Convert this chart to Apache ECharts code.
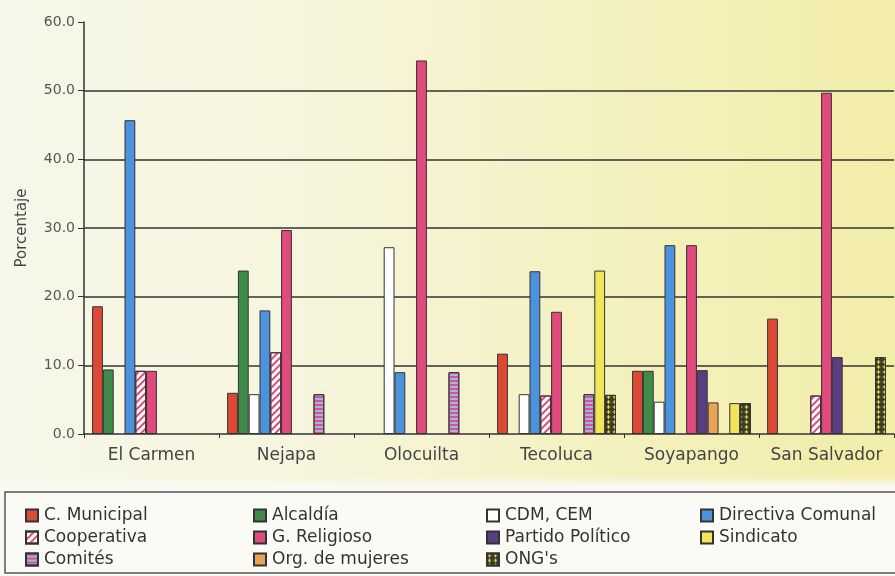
<!DOCTYPE html>
<html>
<head>
<meta charset="utf-8">
<script src="https://cdn.jsdelivr.net/npm/echarts@6/dist/echarts.min.js"></script>
<style>
  html, body { margin: 0; padding: 0; }
  body {
    width: 895px; height: 576px; overflow: hidden;
    background:
      linear-gradient(to bottom, rgba(250,250,244,0) 0px, rgba(250,250,244,0) 476px, #f9f9f3 486px),
      linear-gradient(to right, #f7f7ea 0%, #f6f5dc 35%, #f4f1c2 65%, #f2eda9 100%);
  }
  #chart { width: 895px; height: 576px; }
</style>
</head>
<body>
<div id="chart"></div>
<script>
// Municipalities
const categories = ['El Carmen', 'Nejapa', 'Olocuilta', 'Tecoluca', 'Soyapango', 'San Salvador'];

// Percentage of participation per organisation type
const municipal   = [18.6,  6.0,  0.0, 11.7,  9.2, 16.8];
const alcaldia    = [ 9.4, 23.8,  0.0,  0.0,  9.2,  0.0];
const cdmCem      = [ 0.0,  5.8, 27.2,  5.8,  4.7,  0.0];
const directiva   = [45.7, 18.0,  9.0, 23.7, 27.5,  0.0];
const cooperativa = [ 9.2, 11.9,  0.0,  5.6,  0.0,  5.6];
const religioso   = [ 9.2, 29.7, 54.4, 17.8, 27.5, 49.7];
const partido     = [ 0.0,  0.0,  0.0,  0.0,  9.3, 11.2];
const mujeres     = [ 0.0,  0.0,  0.0,  0.0,  4.6,  0.0];
const comites     = [ 0.0,  5.8,  9.0,  5.8,  0.0,  0.0];
const sindicato   = [ 0.0,  0.0,  0.0, 23.8,  4.5,  0.0];
const ongs        = [ 0.0,  0.0,  0.0,  5.7,  4.5, 11.2];

// Y axis
const yMin = 0, yMax = 60, yStep = 10;

const FONT = 'DejaVu Sans';
const EDGE = '#333333';

function barSeries(name, data, color, decal) {
  const s = {
    name: name,
    type: 'bar',
    // a zero share leaves its slot empty instead of drawing a flat outline
    data: data.map(v => (v === 0 ? '-' : v)),
    barGap: '0%',
    barCategoryGap: '12%',
    itemStyle: { color: color, borderColor: EDGE, borderWidth: 1 }
  };
  if (decal) s.itemStyle.decal = decal;
  return s;
}

const diagonalPink = {
  symbol: 'rect', symbolSize: 1, color: '#e2467c',
  dashArrayX: [1, 0], dashArrayY: [2, 2.5], rotation: -Math.PI / 4
};
const stripedPink = {
  symbol: 'rect', symbolSize: 1, color: '#e0508a',
  dashArrayX: [1, 0], dashArrayY: [1.6, 1.6], rotation: 0
};
const yellowCross = {
  symbol: 'path://M2,0H4V2H6V4H4V6H2V4H0V2H2Z', symbolSize: 0.9, color: '#e9dd45',
  dashArrayX: [4.5, 0.5], dashArrayY: [4, 1], rotation: 0
};

const series = [
  barSeries('C. Municipal', municipal, '#dc4a35'),
  barSeries('Alcaldía', alcaldia, '#3f8b4a'),
  barSeries('CDM, CEM', cdmCem, '#ffffff'),
  barSeries('Directiva Comunal', directiva, '#4d92dc'),
  barSeries('Cooperativa', cooperativa, '#ffffff', diagonalPink),
  barSeries('G. Religioso', religioso, '#e04a7c'),
  barSeries('Partido Político', partido, '#5b3d84'),
  barSeries('Org. de mujeres', mujeres, '#eba257'),
  barSeries('Comités', comites, '#9ab8ea', stripedPink),
  barSeries('Sindicato', sindicato, '#f2e55a'),
  barSeries("ONG's", ongs, '#3c3a28', yellowCross)
];

function legendColumn(left, top, names) {
  return {
    orient: 'vertical', left: left, top: top,
    itemWidth: 12, itemHeight: 12, itemGap: 5,
    icon: 'rect',
    selectedMode: false,
    textStyle: { fontFamily: FONT, fontSize: 17, lineHeight: 17, color: '#333', padding: [0, 0, 0, 1] },
    data: names
  };
}

const chart = echarts.init(document.getElementById('chart'), null, { renderer: 'canvas' });
chart.setOption({
  animation: false,
  backgroundColor: 'transparent',
  textStyle: { fontFamily: FONT },
  grid: { left: 84, right: 1, top: 22, bottom: 142, containLabel: false },
  xAxis: {
    type: 'category',
    data: categories,
    axisLine: { lineStyle: { color: EDGE, width: 1.5 } },
    axisTick: { show: true, length: 4, lineStyle: { color: EDGE } },
    axisLabel: { interval: 0, fontFamily: FONT, fontSize: 17, color: '#444', margin: 13 }
  },
  yAxis: {
    type: 'value',
    min: yMin, max: yMax, interval: yStep,
    name: 'Porcentaje',
    nameLocation: 'middle',
    nameGap: 54,
    nameTextStyle: { fontFamily: FONT, fontSize: 15, color: '#444' },
    axisLine: { show: true, lineStyle: { color: EDGE, width: 1.5 } },
    axisTick: { show: true, length: 6, lineStyle: { color: EDGE } },
    axisLabel: { fontFamily: FONT, fontSize: 14, color: '#555', margin: 9,
                 formatter: v => v.toFixed(1) },
    splitLine: { show: true, showMinLine: false, showMaxLine: false,
                 lineStyle: { color: '#333', width: 1.5 } }
  },
  legend: [
    legendColumn(20, 502, ['C. Municipal', 'Cooperativa', 'Comités']),
    legendColumn(248, 502, ['Alcaldía', 'G. Religioso', 'Org. de mujeres']),
    legendColumn(481, 502, ['CDM, CEM', 'Partido Político', "ONG's"]),
    legendColumn(695, 502, ['Directiva Comunal', 'Sindicato'])
  ],
  graphic: [
    {
      // legend panel: filled box, open on the right where it runs off the page
      type: 'rect', z: -2, silent: true,
      shape: { x: 5, y: 492, width: 900, height: 81 },
      style: { fill: '#fbfbf5', stroke: null }
    },
    {
      type: 'polyline', z: -1, silent: true,
      shape: { points: [[900, 492], [5, 492], [5, 573], [900, 573]] },
      style: { fill: null, stroke: '#555', lineWidth: 1.5 }
    }
  ],
  series: series
});
</script>
</body>
</html>
